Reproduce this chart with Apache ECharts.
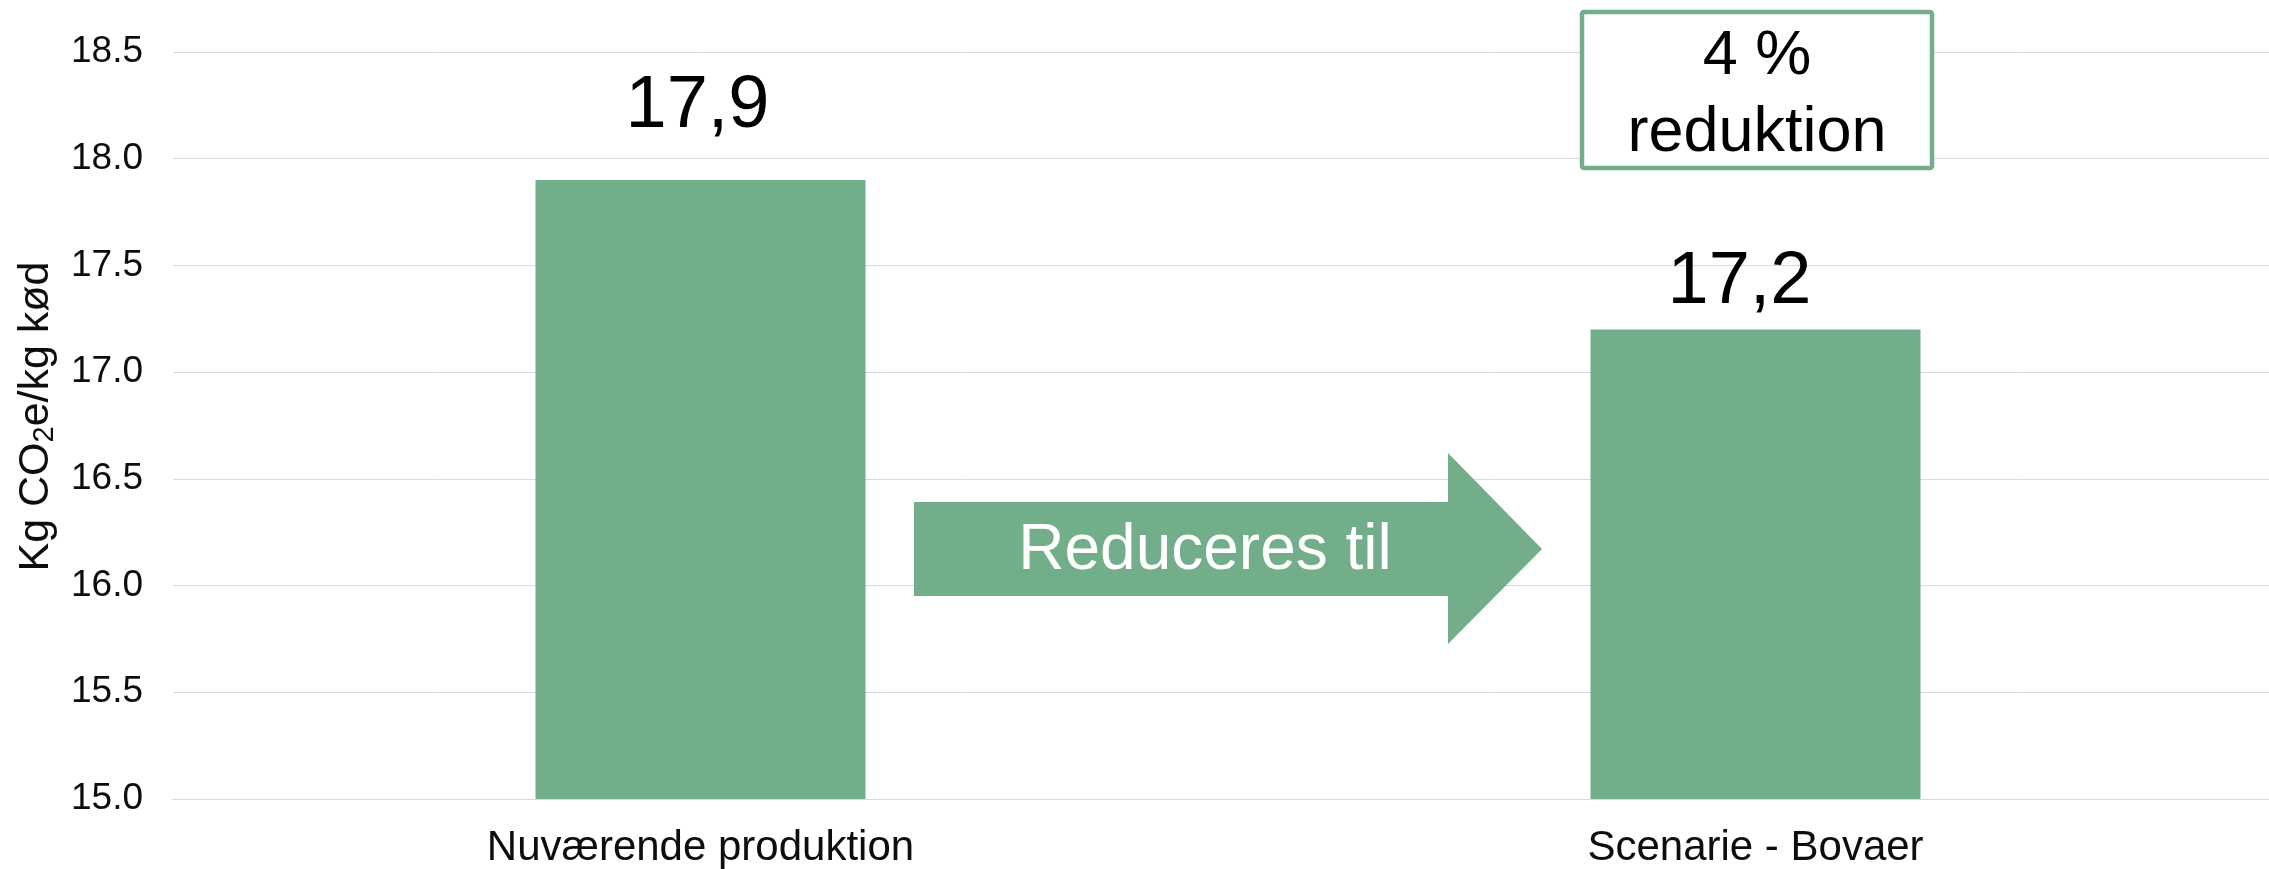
<!DOCTYPE html>
<html>
<head>
<meta charset="utf-8">
<script src="https://cdn.jsdelivr.net/npm/echarts@6/dist/echarts.min.js"></script>
<style>html,body{margin:0;padding:0;background:#fff;overflow:hidden;}#c{width:2283px;height:869px;}</style>
</head>
<body>
<div id="c"></div>
<script>
const categories = ['Nuværende produktion', 'Scenarie - Bovaer'];
const values = [17.9, 17.2];
const yTicks = { min: 15, max: 18.5, interval: 0.5 };
const reductionText = ['4 %', 'reduktion'];
const arrowText = 'Reduceres til';

const GREEN = '#72AE8A';
const FONT = '"Liberation Sans", Arial, sans-serif';

const chart = echarts.init(document.getElementById('c'), null, { renderer: 'canvas' });
const labelDist = [36, 10];
const labelShift = [[-3, 0], [-16, 0]];

chart.setOption({
  animation: false,
  backgroundColor: '#fff',
  textStyle: { fontFamily: FONT },
  grid: { left: 173, right: 0, top: 52, bottom: 70, containLabel: false, outerBoundsMode: 'none' },
  xAxis: {
    type: 'category',
    data: categories,
    axisLine: { lineStyle: { color: '#d9d9d9', width: 1 } },
    axisTick: { show: false },
    axisLabel: { color: '#0d0d0d', fontSize: 42, fontFamily: FONT, margin: 28 }
  },
  yAxis: {
    type: 'value',
    min: yTicks.min, max: yTicks.max, interval: yTicks.interval,
    axisLine: { show: false },
    axisTick: { show: false },
    splitLine: { lineStyle: { color: '#d9d9d9', width: 1 } },
    axisLabel: { color: '#0d0d0d', fontSize: 37, fontFamily: FONT, margin: 30,
      formatter: v => v.toFixed(1) },
    name: '{a|Kg CO}{s|2}{a|e/kg kød}',
    nameLocation: 'middle',
    nameRotate: 90,
    nameGap: 114,
    nameTextStyle: {
      padding: [0, 0, 0, 18],
      rich: {
        a: { fontSize: 43, color: '#0d0d0d', fontFamily: FONT },
        s: { fontSize: 29, color: '#0d0d0d', fontFamily: FONT, padding: [16, 0, 0, 0] }
      }
    }
  },
  series: [{
    type: 'bar',
    barWidth: 330,
    itemStyle: { color: GREEN },
    data: values.map((v, i) => ({ value: v, label: { distance: labelDist[i], offset: labelShift[i] } })),
    label: {
      show: true, position: 'top', color: '#000', fontSize: 74, fontFamily: FONT,
      formatter: p => String(p.value).replace('.', ',')
    }
  }],
  graphic: [
    {
      type: 'polygon', z: 100,
      shape: { points: [[914, 502], [1448, 502], [1448, 453], [1542, 549], [1448, 644], [1448, 596], [914, 596]] },
      style: { fill: GREEN }
    },
    {
      type: 'text', x: 1205, y: 551, z: 101,
      style: { text: arrowText, fill: '#fff', font: '64px ' + FONT, align: 'center', verticalAlign: 'middle' }
    },
    {
      type: 'rect', z: 100, shape: { x: 1582, y: 12, width: 350, height: 156, r: 2 },
      style: { fill: '#fff', stroke: GREEN, lineWidth: 4.5 }
    },
    {
      type: 'text', x: 1757, y: 95, z: 101,
      style: { text: reductionText.join('\n'), fill: '#000', fontSize: 63, fontFamily: FONT, lineHeight: 77, align: 'center', verticalAlign: 'middle' }
    }
  ]
});
</script>
</body>
</html>
